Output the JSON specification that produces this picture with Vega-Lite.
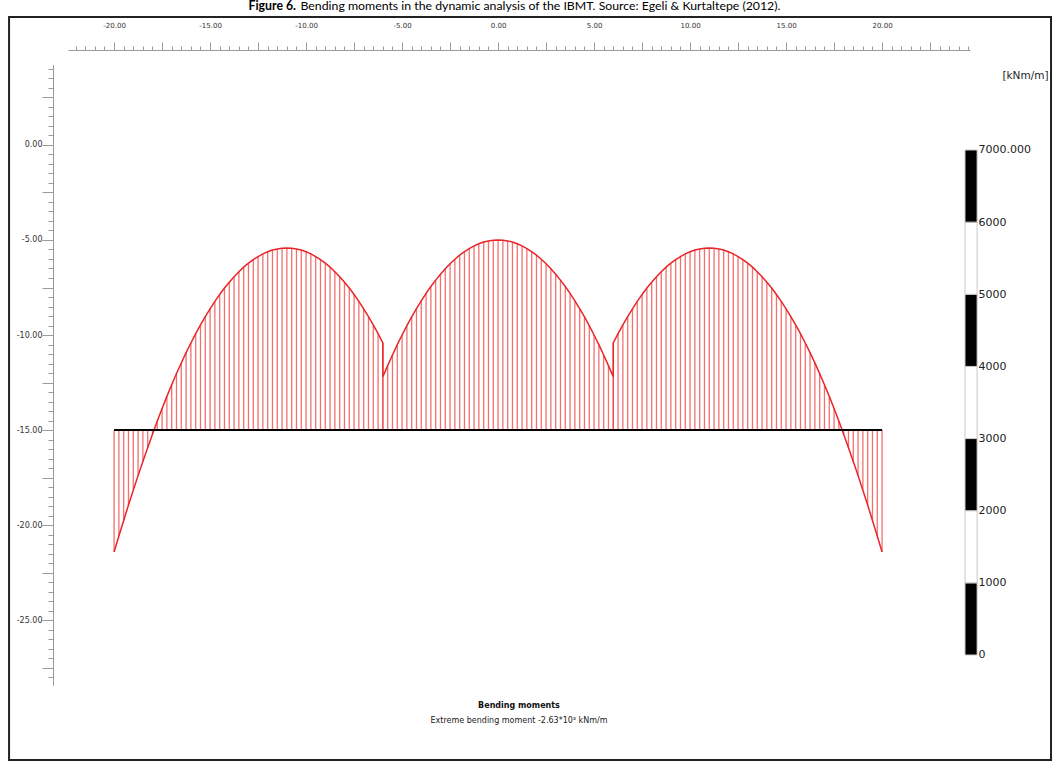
{
  "$schema": "https://vega.github.io/schema/vega-lite/v6.json",
  "width": 902,
  "height": 620,
  "autosize": {"type": "none"},
  "padding": {"left": 68, "top": 65, "right": 83, "bottom": 77},
  "background": "white",
  "config": {"view": {"stroke": null}, "font": "DejaVu Sans"},
  "title": {
    "text": "Bending moments",
    "subtitle": "Extreme bending moment -2.63*10³  kNm/m",
    "orient": "bottom",
    "anchor": "middle",
    "font": "DejaVu Sans",
    "fontSize": 8,
    "fontWeight": "bold",
    "color": "#111111",
    "subtitleFont": "DejaVu Sans",
    "subtitleFontSize": 8,
    "subtitleColor": "#222222",
    "subtitlePadding": 7,
    "offset": -59
  },
  "datasets": {
    "moment": [
      {"x": -20, "m": -21.42}, {"x": -19.75, "m": -20.58}, {"x": -19.5, "m": -19.76}, {"x": -19.25, "m": -18.95},
      {"x": -19, "m": -18.17}, {"x": -18.75, "m": -17.4}, {"x": -18.5, "m": -16.66}, {"x": -18.25, "m": -15.93},
      {"x": -18, "m": -15.22}, {"x": -17.75, "m": -14.53}, {"x": -17.5, "m": -13.87}, {"x": -17.25, "m": -13.23},
      {"x": -17, "m": -12.62}, {"x": -16.75, "m": -12.03}, {"x": -16.5, "m": -11.47}, {"x": -16.25, "m": -10.93},
      {"x": -16, "m": -10.42}, {"x": -15.75, "m": -9.93}, {"x": -15.5, "m": -9.47}, {"x": -15.25, "m": -9.03},
      {"x": -15, "m": -8.62}, {"x": -14.75, "m": -8.23}, {"x": -14.5, "m": -7.87}, {"x": -14.25, "m": -7.53},
      {"x": -14, "m": -7.22}, {"x": -13.75, "m": -6.93}, {"x": -13.5, "m": -6.67}, {"x": -13.25, "m": -6.43},
      {"x": -13, "m": -6.22}, {"x": -12.75, "m": -6.03}, {"x": -12.5, "m": -5.87}, {"x": -12.25, "m": -5.73},
      {"x": -12, "m": -5.62}, {"x": -11.75, "m": -5.53}, {"x": -11.5, "m": -5.47}, {"x": -11.25, "m": -5.43},
      {"x": -11, "m": -5.42}, {"x": -10.75, "m": -5.43}, {"x": -10.5, "m": -5.47}, {"x": -10.25, "m": -5.53},
      {"x": -10, "m": -5.62}, {"x": -9.75, "m": -5.73}, {"x": -9.5, "m": -5.87}, {"x": -9.25, "m": -6.03},
      {"x": -9, "m": -6.22}, {"x": -8.75, "m": -6.43}, {"x": -8.5, "m": -6.67}, {"x": -8.25, "m": -6.93},
      {"x": -8, "m": -7.22}, {"x": -7.75, "m": -7.53}, {"x": -7.5, "m": -7.87}, {"x": -7.25, "m": -8.23},
      {"x": -7, "m": -8.62}, {"x": -6.75, "m": -9.03}, {"x": -6.5, "m": -9.47}, {"x": -6.25, "m": -9.93},
      {"x": -6, "m": -10.42},
      {"x": -6, "m": -12.2}, {"x": -5.75, "m": -11.61}, {"x": -5.5, "m": -11.05}, {"x": -5.25, "m": -10.51},
      {"x": -5, "m": -10.0}, {"x": -4.75, "m": -9.51}, {"x": -4.5, "m": -9.05}, {"x": -4.25, "m": -8.61},
      {"x": -4, "m": -8.2}, {"x": -3.75, "m": -7.81}, {"x": -3.5, "m": -7.45}, {"x": -3.25, "m": -7.11},
      {"x": -3, "m": -6.8}, {"x": -2.75, "m": -6.51}, {"x": -2.5, "m": -6.25}, {"x": -2.25, "m": -6.01},
      {"x": -2, "m": -5.8}, {"x": -1.75, "m": -5.61}, {"x": -1.5, "m": -5.45}, {"x": -1.25, "m": -5.31},
      {"x": -1, "m": -5.2}, {"x": -0.75, "m": -5.11}, {"x": -0.5, "m": -5.05}, {"x": -0.25, "m": -5.01},
      {"x": 0, "m": -5.0}, {"x": 0.25, "m": -5.01}, {"x": 0.5, "m": -5.05}, {"x": 0.75, "m": -5.11},
      {"x": 1, "m": -5.2}, {"x": 1.25, "m": -5.31}, {"x": 1.5, "m": -5.45}, {"x": 1.75, "m": -5.61},
      {"x": 2, "m": -5.8}, {"x": 2.25, "m": -6.01}, {"x": 2.5, "m": -6.25}, {"x": 2.75, "m": -6.51},
      {"x": 3, "m": -6.8}, {"x": 3.25, "m": -7.11}, {"x": 3.5, "m": -7.45}, {"x": 3.75, "m": -7.81},
      {"x": 4, "m": -8.2}, {"x": 4.25, "m": -8.61}, {"x": 4.5, "m": -9.05}, {"x": 4.75, "m": -9.51},
      {"x": 5, "m": -10.0}, {"x": 5.25, "m": -10.51}, {"x": 5.5, "m": -11.05}, {"x": 5.75, "m": -11.61},
      {"x": 6, "m": -12.2},
      {"x": 6, "m": -10.42}, {"x": 6.25, "m": -9.93}, {"x": 6.5, "m": -9.47}, {"x": 6.75, "m": -9.03},
      {"x": 7, "m": -8.62}, {"x": 7.25, "m": -8.23}, {"x": 7.5, "m": -7.87}, {"x": 7.75, "m": -7.53},
      {"x": 8, "m": -7.22}, {"x": 8.25, "m": -6.93}, {"x": 8.5, "m": -6.67}, {"x": 8.75, "m": -6.43},
      {"x": 9, "m": -6.22}, {"x": 9.25, "m": -6.03}, {"x": 9.5, "m": -5.87}, {"x": 9.75, "m": -5.73},
      {"x": 10, "m": -5.62}, {"x": 10.25, "m": -5.53}, {"x": 10.5, "m": -5.47}, {"x": 10.75, "m": -5.43},
      {"x": 11, "m": -5.42}, {"x": 11.25, "m": -5.43}, {"x": 11.5, "m": -5.47}, {"x": 11.75, "m": -5.53},
      {"x": 12, "m": -5.62}, {"x": 12.25, "m": -5.73}, {"x": 12.5, "m": -5.87}, {"x": 12.75, "m": -6.03},
      {"x": 13, "m": -6.22}, {"x": 13.25, "m": -6.43}, {"x": 13.5, "m": -6.67}, {"x": 13.75, "m": -6.93},
      {"x": 14, "m": -7.22}, {"x": 14.25, "m": -7.53}, {"x": 14.5, "m": -7.87}, {"x": 14.75, "m": -8.23},
      {"x": 15, "m": -8.62}, {"x": 15.25, "m": -9.03}, {"x": 15.5, "m": -9.47}, {"x": 15.75, "m": -9.93},
      {"x": 16, "m": -10.42}, {"x": 16.25, "m": -10.93}, {"x": 16.5, "m": -11.47}, {"x": 16.75, "m": -12.03},
      {"x": 17, "m": -12.62}, {"x": 17.25, "m": -13.23}, {"x": 17.5, "m": -13.87}, {"x": 17.75, "m": -14.53},
      {"x": 18, "m": -15.22}, {"x": 18.25, "m": -15.93}, {"x": 18.5, "m": -16.66}, {"x": 18.75, "m": -17.4},
      {"x": 19, "m": -18.17}, {"x": 19.25, "m": -18.95}, {"x": 19.5, "m": -19.76}, {"x": 19.75, "m": -20.58},
      {"x": 20, "m": -21.42}
    ],
    "beam": [{"x": -20, "x2": 20, "y": -15}],
    "scalebar": [
      {"lo": 0, "hi": 1000, "shade": "dark"},
      {"lo": 1000, "hi": 2000, "shade": "light"},
      {"lo": 2000, "hi": 3000, "shade": "dark"},
      {"lo": 3000, "hi": 4000, "shade": "light"},
      {"lo": 4000, "hi": 5000, "shade": "dark"},
      {"lo": 5000, "hi": 6000, "shade": "light"},
      {"lo": 6000, "hi": 7000, "shade": "dark"}
    ]
  },
  "layer": [
    {
      "layer": [
        {
          "data": {"name": "moment"},
          "mark": {"type": "rule", "color": "#ee3333", "strokeWidth": 1.3, "opacity": 0.7},
          "encoding": {
            "x": {
              "field": "x", "type": "quantitative",
              "scale": {"domain": [-22.4, 24.58], "nice": false, "zero": false},
              "axis": {
                "orient": "top", "offset": 15, "grid": false,
                "values": [-20,-17.5,-15,-12.5,-10,-7.5,-5,-2.5,0,2.5,5,7.5,10,12.5,15,17.5,20,22.5],
                "domainColor": "#9a9a9a", "tickColor": "#9a9a9a", "tickSize": 8,
                "labelExpr": "datum.value % 5 === 0 ? (datum.value < 0 ? '-' : '') + format(abs(datum.value), '.2f') : ''",
                "labelOverlap": false, "labelFlush": false, "labelBound": false,
                "labelFont": "DejaVu Sans", "labelFontSize": 7, "labelColor": "#333333", "labelPadding": 14,
                "title": "Figure 6.", "titleFont": "Lato", "titleFontSize": 12.3, "titleFontWeight": "bold", "titleColor": "#000000",
                "titleX": 180, "titleY": -41, "titleAlign": "left", "titleBaseline": "alphabetic", "titleAngle": 0
              }
            },
            "y": {
              "field": "m", "type": "quantitative",
              "scale": {"domain": [-28.42, 4.21], "nice": false, "zero": false},
              "axis": {
                "orient": "left", "offset": 15, "grid": false,
                "values": [-27.5,-25,-22.5,-20,-17.5,-15,-12.5,-10,-7.5,-5,-2.5,0,2.5],
                "domainColor": "#9a9a9a", "tickColor": "#9a9a9a", "tickSize": 11,
                "labelExpr": "datum.value % 5 === 0 ? (datum.value < 0 ? '-' : '') + format(abs(datum.value), '.2f') : ''",
                "labelOverlap": false, "labelFlush": false, "labelBound": false,
                "labelFont": "DejaVu Sans", "labelFontSize": 8, "labelColor": "#333333", "labelPadding": 0,
                "title": null
              }
            },
            "y2": {"datum": -15}
          }
        },
        {
          "data": {"name": "moment"},
          "mark": {"type": "line", "color": "#e8262a", "strokeWidth": 1.5},
          "encoding": {
            "x": {"field": "x", "type": "quantitative"},
            "y": {
              "field": "m", "type": "quantitative",
              "axis": {
                "orient": "left", "offset": 15, "grid": false,
                "values": [-28,-27.5,-27,-26.5,-26,-25.5,-25,-24.5,-24,-23.5,-23,-22.5,-22,-21.5,-21,-20.5,-20,-19.5,-19,-18.5,-18,-17.5,-17,-16.5,-16,-15.5,-15,-14.5,-14,-13.5,-13,-12.5,-12,-11.5,-11,-10.5,-10,-9.5,-9,-8.5,-8,-7.5,-7,-6.5,-6,-5.5,-5,-4.5,-4,-3.5,-3,-2.5,-2,-1.5,-1,-0.5,0,0.5,1,1.5,2,2.5,3,3.5,4],
                "domainColor": "#9a9a9a", "tickColor": "#9a9a9a", "tickSize": 5,
                "labels": false, "title": null
              }
            }
          }
        },
        {
          "data": {"name": "beam"},
          "mark": {"type": "rule", "color": "#000000", "strokeWidth": 2},
          "encoding": {
            "x": {"field": "x", "type": "quantitative"},
            "x2": {"field": "x2"},
            "y": {"field": "y", "type": "quantitative", "axis": null}
          }
        },
        {
          "data": {"values": [{}]},
          "mark": {"type": "rect", "fill": null, "fillOpacity": 0, "stroke": "#222222", "strokeWidth": 2},
          "encoding": {
            "x": {"datum": -25.47, "type": "quantitative"},
            "x2": {"datum": 28.8},
            "y": {"datum": 6.74, "type": "quantitative", "axis": null},
            "y2": {"datum": -32.37}
          }
        }
      ],
      "resolve": {"axis": {"y": "independent"}}
    },
    {
      "data": {"name": "scalebar"},
      "mark": {"type": "rect", "stroke": "#c8c8c8", "strokeWidth": 1},
      "encoding": {
        "x": {
          "datum": 24.32, "type": "quantitative",
          "scale": {"domain": [-22.4, 24.58], "nice": false, "zero": false},
          "axis": {
            "orient": "top", "offset": 15, "domain": false, "ticks": true, "labels": false, "grid": false,
            "values": [-22,-21.5,-21,-20.5,-20,-19.5,-19,-18.5,-18,-17.5,-17,-16.5,-16,-15.5,-15,-14.5,-14,-13.5,-13,-12.5,-12,-11.5,-11,-10.5,-10,-9.5,-9,-8.5,-8,-7.5,-7,-6.5,-6,-5.5,-5,-4.5,-4,-3.5,-3,-2.5,-2,-1.5,-1,-0.5,0,0.5,1,1.5,2,2.5,3,3.5,4,4.5,5,5.5,6,6.5,7,7.5,8,8.5,9,9.5,10,10.5,11,11.5,12,12.5,13,13.5,14,14.5,15,15.5,16,16.5,17,17.5,18,18.5,19,19.5,20,20.5,21,21.5,22,22.5,23,23.5,24,24.5],
            "tickColor": "#9a9a9a", "tickSize": 4,
            "title": "Bending moments in the dynamic analysis of the IBMT. Source: Egeli & Kurtaltepe (2012).",
            "titleFont": "Lato", "titleFontSize": 12.3, "titleFontWeight": "normal", "titleColor": "#000000",
            "titleX": 232, "titleY": -41, "titleAlign": "left", "titleBaseline": "alphabetic", "titleAngle": 0
          }
        },
        "x2": {"datum": 24.95},
        "y": {
          "field": "lo", "type": "quantitative",
          "scale": {"domain": [-416, 8178], "nice": false, "zero": false},
          "axis": {
            "orient": "right", "values": [0, 1000, 2000, 3000, 4000, 5000, 6000, 7000],
            "domain": false, "ticks": false, "tickSize": 0, "grid": false,
            "labelExpr": "datum.value === 7000 ? '7000.000' : '' + datum.value",
            "labelFont": "DejaVu Sans", "labelFontSize": 11, "labelColor": "#222222",
            "labelPadding": 8, "labelAlign": "left", "labelBaseline": "middle",
            "title": "[kNm/m]", "titleFont": "DejaVu Sans", "titleFontSize": 10.5, "titleFontWeight": "normal",
            "titleColor": "#222222", "titleAngle": 0, "titleX": 55, "titleY": 10,
            "titleAlign": "center", "titleBaseline": "middle"
          }
        },
        "y2": {"field": "hi"},
        "fill": {
          "field": "shade", "type": "nominal",
          "scale": {"domain": ["dark", "light"], "range": ["#000000", "#ffffff"]},
          "legend": null
        }
      }
    }
  ],
  "resolve": {"scale": {"x": "independent", "y": "independent"}, "axis": {"x": "independent", "y": "independent"}}
}
